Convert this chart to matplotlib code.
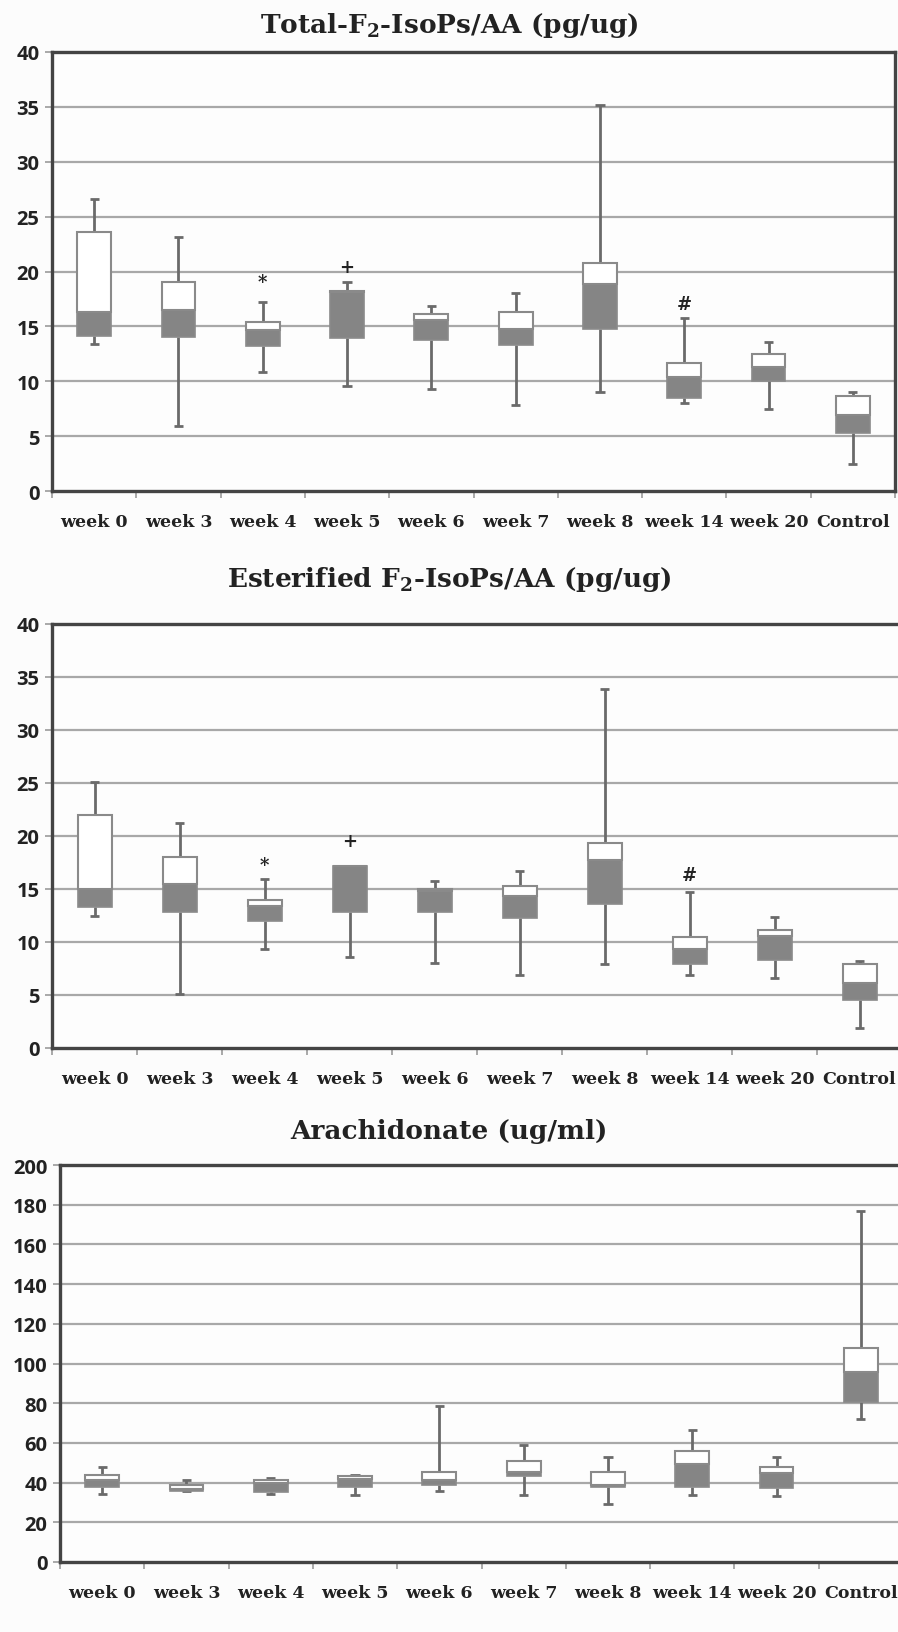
import matplotlib
matplotlib.use("Agg")
import matplotlib.pyplot as plt

categories = ["week 0", "week 3", "week 4", "week 5", "week 6", "week 7",
              "week 8", "week 14", "week 20", "Control"]

# Panel 1: Total-F2-IsoPs/AA
tot_low = [13.4, 5.9, 10.8, 9.6, 9.3, 7.8, 9.0, 8.0, 7.5, 2.5]
tot_q1 = [14.1, 14.0, 13.2, 13.9, 13.8, 13.3, 14.8, 8.5, 10.0, 5.3]
tot_med = [16.3, 16.5, 14.7, 18.1, 15.6, 14.8, 18.9, 10.4, 11.3, 6.9]
tot_q3 = [23.6, 19.0, 15.4, 18.2, 16.1, 16.3, 20.8, 11.7, 12.5, 8.7]
tot_high = [26.6, 23.1, 17.2, 19.0, 16.9, 18.0, 35.2, 15.8, 13.6, 9.05]
tot_marks = {2: ("*", 19.0), 3: ("+", 20.4), 7: ("#", 17.0)}

# Panel 2: Esterified F2-IsoPs/AA
est_low = [12.5, 5.1, 9.3, 8.6, 8.0, 6.9, 7.9, 6.9, 6.6, 1.9]
est_q1 = [13.3, 12.8, 12.0, 12.8, 12.8, 12.3, 13.6, 7.9, 8.3, 4.5]
est_med = [15.0, 15.5, 13.4, 17.15, 14.8, 14.3, 17.7, 9.3, 10.6, 6.1]
est_q3 = [22.0, 18.0, 14.0, 17.2, 15.0, 15.3, 19.3, 10.5, 11.1, 7.9]
est_high = [25.1, 21.2, 15.9, 17.2, 15.8, 16.7, 33.9, 14.7, 12.4, 8.2]
est_marks = {2: ("*", 17.3), 3: ("+", 19.5), 7: ("#", 16.3)}

# Panel 3: Arachidonate
ara_low = [34.4, 35.8, 34.4, 34.0, 36.0, 33.9, 29.3, 33.9, 33.2, 71.8]
ara_q1 = [37.7, 36.0, 35.5, 37.7, 38.9, 43.3, 37.7, 37.7, 37.2, 80.5]
ara_med = [41.1, 36.8, 39.9, 41.9, 41.1, 45.3, 38.9, 49.5, 44.8, 95.6]
ara_q3 = [43.6, 39.0, 41.4, 43.1, 45.3, 51.1, 45.3, 55.7, 47.8, 107.7]
ara_high = [48.1, 41.5, 42.4, 43.6, 78.8, 58.7, 53.1, 66.6, 53.1, 177.0]

W, H = 898, 1633
fig = plt.figure(figsize=(W / 100, H / 100), dpi=100)
fig.patch.set_facecolor("#fcfcfc")
plt.rcParams["mathtext.fontset"] = "dejavuserif"

GREY = "#858585"
EDGE = "#8a8a8a"
WHISK = "#6a6a6a"
GRID = "#a8a8a8"
FRAME = "#444444"
TXT = "#222222"


def panel(rect_px, title, title_y, low, q1, med, q3, high, ymax, ystep,
          marks, right_spine, label_pad):
    l, r, t, b = rect_px
    ax = fig.add_axes([l / W, 1 - b / H, (r - l) / W, (b - t) / H])
    ax.set_facecolor("#fdfdfd")
    n = len(categories)
    xs = list(range(n))
    bw = 0.40
    ax.set_xlim(-0.5, n - 0.5)
    ax.set_ylim(0, ymax)
    ax.set_yticks(range(0, ymax + 1, ystep))
    for yv in range(ystep, ymax, ystep):
        ax.axhline(yv, color=GRID, lw=1.6, zorder=0)
    # whiskers
    ax.vlines(xs, low, q1, color=WHISK, lw=2.0, zorder=2)
    ax.vlines(xs, q3, high, color=WHISK, lw=2.0, zorder=2)
    ax.hlines(low, [x - 0.055 for x in xs], [x + 0.055 for x in xs],
              color=WHISK, lw=2.0, zorder=2)
    ax.hlines(high, [x - 0.055 for x in xs], [x + 0.055 for x in xs],
              color=WHISK, lw=2.0, zorder=2)
    # boxes
    ax.bar(xs, [m - a for m, a in zip(med, q1)], bottom=q1, width=bw,
           color=GREY, edgecolor=EDGE, lw=1.2, zorder=3)
    ax.bar(xs, [c - m for c, m in zip(q3, med)], bottom=med, width=bw,
           color="white", edgecolor=EDGE, lw=1.5, zorder=3)
    for i, (sym, yv) in marks.items():
        ax.text(i, yv, sym, ha="center", va="center", fontsize=13,
                fontweight="bold", family="DejaVu Serif", color=TXT, zorder=4)
    # spines
    for s in ["left", "bottom", "top"]:
        ax.spines[s].set_color(FRAME)
        ax.spines[s].set_linewidth(2.4)
    ax.spines["right"].set_visible(right_spine)
    ax.spines["right"].set_color(FRAME)
    ax.spines["right"].set_linewidth(2.4)
    # x ticks: marks at boundaries, labels at centres
    ax.set_xticks([i - 0.5 for i in range(n + 1)])
    ax.set_xticklabels([])
    ax.tick_params(axis="x", which="major", length=5, width=1.2, color="#9a9a9a",
                   direction="out")
    ax.set_xticks(xs, minor=True)
    ax.set_xticklabels(categories, minor=True, fontsize=12.5, fontweight="bold",
                       family="DejaVu Serif", color=TXT)
    ax.tick_params(axis="x", which="minor", length=0, pad=label_pad)
    ax.tick_params(axis="y", length=5, width=1.2, color="#9a9a9a", pad=4,
                   labelsize=14.5, labelcolor=TXT)
    plt.setp(ax.get_yticklabels(), fontweight="bold", family="Open Sans")
    fig.text(0.5, 1 - title_y / H, title, ha="center", va="center",
             fontsize=19, fontweight="bold", family="DejaVu Serif", color=TXT)
    return ax


panel((52, 895, 53, 492), r"Total-F$_\mathbf{2}$-IsoPs/AA (pg/ug)", 25,
      tot_low, tot_q1, tot_med, tot_q3, tot_high, 40, 5, tot_marks, True, 16)
panel((52, 902, 625, 1049), r"Esterified F$_\mathbf{2}$-IsoPs/AA (pg/ug)", 580,
      est_low, est_q1, est_med, est_q3, est_high, 40, 5, est_marks, False, 16)
panel((60, 903, 1166, 1563), "Arachidonate (ug/ml)", 1132,
      ara_low, ara_q1, ara_med, ara_q3, ara_high, 200, 20, {}, False, 16)

fig.savefig("out.png", dpi=100, facecolor=fig.get_facecolor())
